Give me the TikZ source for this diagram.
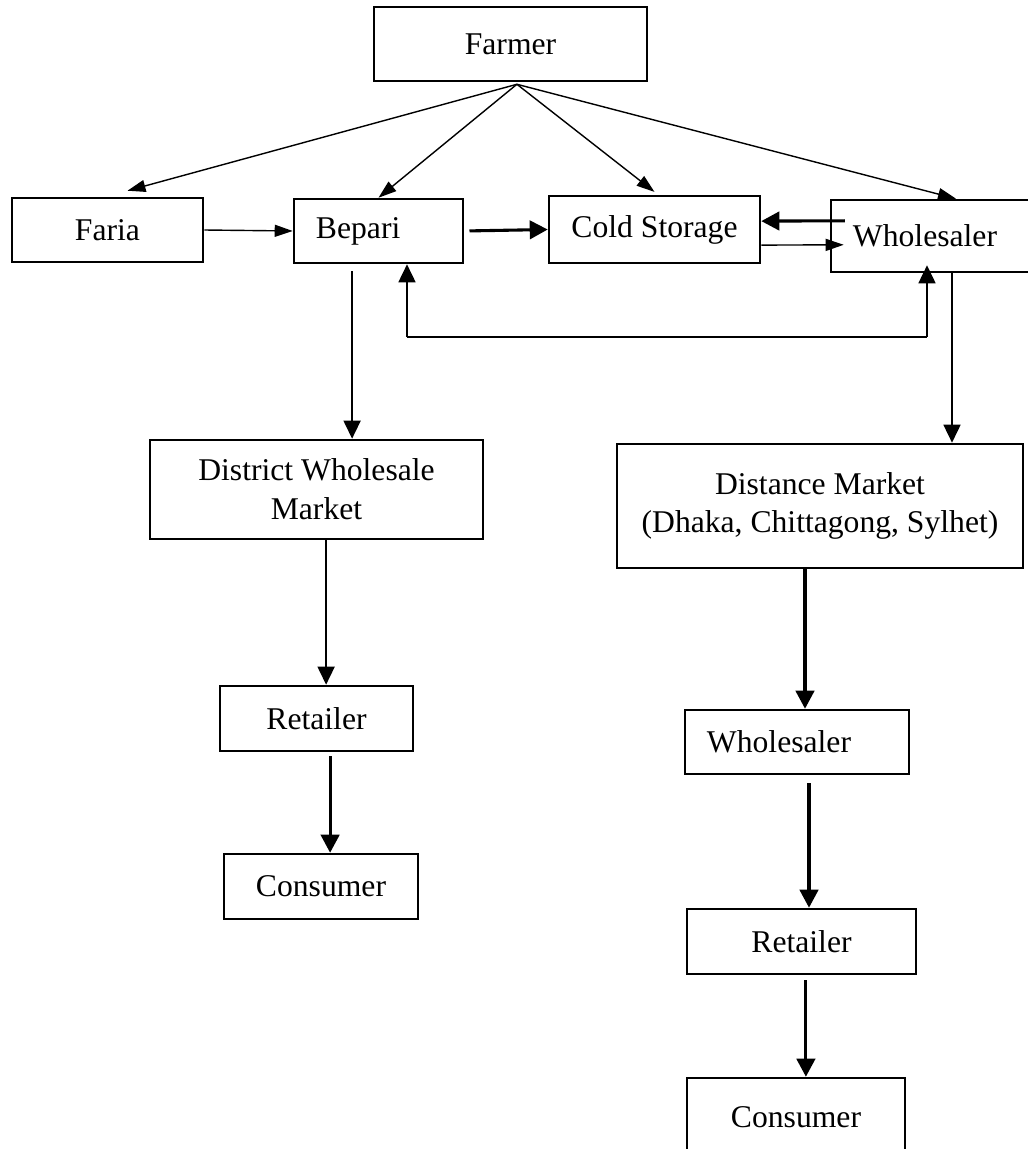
\documentclass[tikz,border=0pt]{standalone}
\usepackage{fontspec}
\setmainfont{Liberation Serif}
\usepackage{tikz}
\usetikzlibrary{arrows.meta}

\begin{document}
\begin{tikzpicture}[x=0.025cm, y=-0.025cm]
    \tikzstyle{box} += [draw=black, rectangle, line width=1.8pt, inner sep=0pt,
                        font=\fontsize{22.5}{27.5}\selectfont, align=center];
    \tikzstyle{lbox} += [box, align=left, inner xsep=0.55cm];
    \tikzstyle{flow} += [line width=1pt, -{Triangle[length=0.45cm, width=0.3cm]}];
    \tikzstyle{midflow} += [line width=1.6pt, -{Triangle[length=0.45cm, width=0.42cm]}];
    \tikzstyle{bigflow} += [line width=2.2pt, -{Triangle[length=0.45cm, width=0.46cm]}];
    \useasboundingbox (0, 0) rectangle (1027, 1149);

    \node (farmer)   at (510.5,   44) [box, minimum width=6.825cm, minimum height=1.85cm]{Farmer};
    \node (faria)    at (107.5,  230) [box, minimum width=4.775cm, minimum height=1.6cm]{Faria};
    \node (bepari)   at (378.5,  231) [lbox, text width=3.125cm, minimum height=1.6cm]{Bepari};
    \node (cold)     at (654.5,229.5) [box, minimum width=5.275cm, minimum height=1.675cm]{Cold Storage};
    \node (whole_1)  at (  938,  236) [lbox, text width=4.25cm, minimum height=1.8cm]{Wholesaler};
    \node (district) at (316.5,489.5) [box, minimum width=8.325cm, minimum height=2.475cm]{District Wholesale\\Market};
    \node (distance) at (  820,  506) [box, minimum width=10.15cm, minimum height=3.1cm]{Distance Market\\(Dhaka, Chittagong, Sylhet)};
    \node (retail_1) at (316.5,718.5) [box, minimum width=4.825cm, minimum height=1.625cm]{Retailer};
    \node (cons_1)   at (  321,886.5) [box, minimum width=4.85cm, minimum height=1.625cm]{Consumer};
    \node (whole_2)  at (  797,  742) [lbox, text width=4.5cm, minimum height=1.6cm]{Wholesaler};
    \node (retail_2) at (801.5,941.5) [box, minimum width=5.725cm, minimum height=1.625cm]{Retailer};
    \node (cons_2)   at (  796, 1117) [box, minimum width=5.45cm, minimum height=1.95cm]{Consumer};
    \coordinate (f_out) at ([xshift=0.16cm, yshift=-0.05cm]farmer.south);
    \coordinate (fb_l) at (407, 337);
    \coordinate (fb_r) at (927, 337);

    \begin{scope}
      \draw[flow] (f_out) -- ([xshift=0.5cm, yshift=0.15cm]faria.north);
      \draw[flow] (f_out) -- (bepari.north);
      \draw[flow] (f_out) -- ([yshift=0.07cm]cold.north);
      \draw[flow] (f_out) -- ([xshift=0.45cm]whole_1.north);
      \draw[flow] (faria.east) -- (bepari.west);
      \draw[bigflow, shorten <=0.13cm] (bepari.east) -- (cold.west);
      \draw[bigflow] ([xshift=0.38cm, yshift=0.38cm]whole_1.west) -- ([yshift=0.21cm]cold.east);
      \draw[flow] ([yshift=-0.39cm]cold.east) -- ([xshift=0.35cm, yshift=-0.22cm]whole_1.west);
      \draw[midflow, shorten <=0.18cm] ([xshift=-0.66cm]bepari.south) -- ([xshift=-0.66cm]bepari.south |- district.north);
      \draw[line width=1pt] (fb_l) -- (fb_r);
      \draw[midflow] (fb_l) -- (fb_l |- bepari.south);
      \draw[midflow, shorten >=-0.2cm] (fb_r) -- (fb_r |- whole_1.south);
      \draw[midflow] ([xshift=0.35cm]whole_1.south) -- ([xshift=0.35cm]whole_1.south |- distance.north);
      \draw[midflow] ([xshift=0.24cm]district.south) -- ([xshift=0.24cm]district.south |- retail_1.north);
      \draw[bigflow, shorten <=0.1cm] ([xshift=0.34cm]retail_1.south) -- ([xshift=0.34cm]retail_1.south |- cons_1.north);
      \draw[bigflow] ([xshift=-0.375cm]distance.south) -- ([xshift=-0.375cm]distance.south |- whole_2.north);
      \draw[bigflow, shorten <=0.2cm] ([xshift=0.3cm]whole_2.south) -- ([xshift=0.3cm]whole_2.south |- retail_2.north);
      \draw[bigflow, shorten <=0.12cm] ([xshift=0.11cm]retail_2.south) -- ([xshift=0.11cm]retail_2.south |- cons_2.north);
    \end{scope}
  \end{tikzpicture}
\end{document}
